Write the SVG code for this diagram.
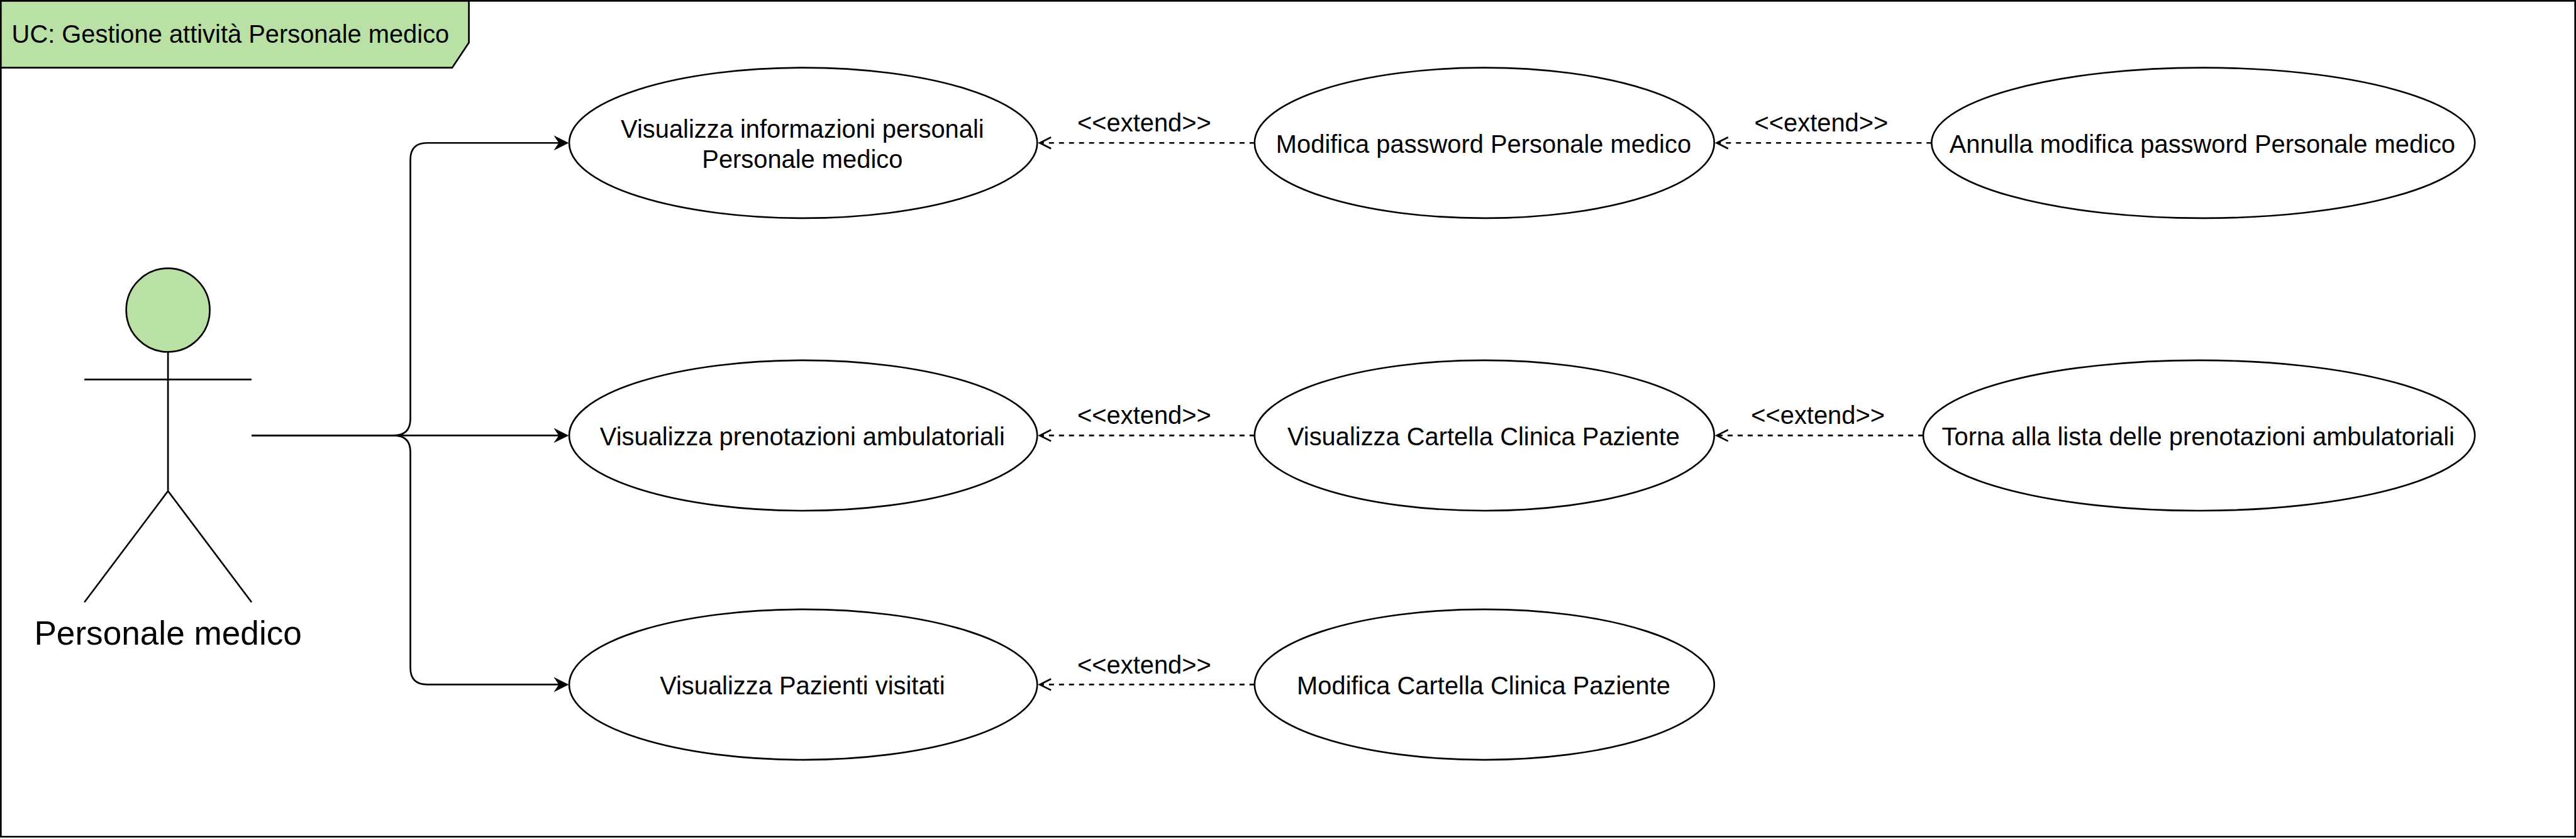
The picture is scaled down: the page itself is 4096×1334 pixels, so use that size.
<svg xmlns="http://www.w3.org/2000/svg" width="4096" height="1334" viewBox="0 0 4096 1334">
<style>
text{font-family:"Liberation Sans",Arial,sans-serif;fill:#000;text-anchor:middle;font-size:60px}
.s{fill:none;stroke:#000;stroke-width:4}
.u{fill:#fff;stroke:#000;stroke-width:4}
.g{fill:#b9e0a5;stroke:#000;stroke-width:4}
.d{fill:none;stroke:#000;stroke-width:4;stroke-dasharray:12 12}
</style>
<defs>
<marker id="fill" markerUnits="userSpaceOnUse" markerWidth="40" markerHeight="40" refX="20" refY="20" orient="auto"><path d="M0 2 L36 20 L0 38 L12 20 Z" fill="#000"/></marker>
<marker id="open" markerUnits="userSpaceOnUse" markerWidth="40" markerHeight="40" refX="34" refY="20" orient="auto"><path d="M7 6.5 L34 20 L7 33.5" fill="none" stroke="#000" stroke-width="4"/></marker>
</defs>
<g transform="scale(0.6645)">
<rect id="bg" width="6164" height="2008" fill="#fff"/>
<g id="frame">
<rect class="s" x="2" y="2" width="6160" height="2000"/>
<path class="g" d="M2 2H1122V102L1082 162H2Z"/>
<text x="28" y="103" style="text-anchor:start">UC: Gestione attività Personale medico</text>
</g>
<g id="connectors">
<path class="s" marker-end="url(#fill)" d="M602 1042H942Q982 1042 982 1002V382Q982 342 1022 342H1345"/>
<path class="s" marker-end="url(#fill)" d="M602 1042H1345"/>
<path class="s" marker-end="url(#fill)" d="M602 1042H942Q982 1042 982 1082V1598Q982 1638 1022 1638H1345"/>
<path class="d" marker-end="url(#open)" d="M3002 342H2488"/>
<path class="d" marker-end="url(#open)" d="M4622 342H4108"/>
<path class="d" marker-end="url(#open)" d="M3002 1042H2488"/>
<path class="d" marker-end="url(#open)" d="M4602 1042H4108"/>
<path class="d" marker-end="url(#open)" d="M3002 1638H2488"/>
<text x="2738" y="315">&lt;&lt;extend&gt;&gt;</text>
<text x="4358" y="315">&lt;&lt;extend&gt;&gt;</text>
<text x="2738" y="1015">&lt;&lt;extend&gt;&gt;</text>
<text x="4350" y="1015">&lt;&lt;extend&gt;&gt;</text>
<text x="2738" y="1612">&lt;&lt;extend&gt;&gt;</text>
</g>
<g id="actor">
<ellipse class="g" cx="402" cy="742" rx="100" ry="100"/>
<path class="s" d="M402 842V1175M202 908H602M202 1441L402 1175L602 1441"/>
<text x="402" y="1543" style="font-size:80px">Personale medico</text>
</g>
<g id="uc1"><ellipse class="u" cx="1922" cy="342" rx="560" ry="180"/><text x="1920" y="330">Visualizza informazioni personali</text><text x="1920" y="402">Personale medico</text></g>
<g id="uc2"><ellipse class="u" cx="3552" cy="342" rx="550" ry="180"/><text x="3550" y="366">Modifica password Personale medico</text></g>
<g id="uc3"><ellipse class="u" cx="5272" cy="342" rx="650" ry="180"/><text x="5270" y="366">Annulla modifica password Personale medico</text></g>
<g id="uc4"><ellipse class="u" cx="1922" cy="1042" rx="560" ry="180"/><text x="1920" y="1066">Visualizza prenotazioni ambulatoriali</text></g>
<g id="uc5"><ellipse class="u" cx="3552" cy="1042" rx="550" ry="180"/><text x="3550" y="1066">Visualizza Cartella Clinica Paziente</text></g>
<g id="uc6"><ellipse class="u" cx="5262" cy="1042" rx="660" ry="180"/><text x="5260" y="1066">Torna alla lista delle prenotazioni ambulatoriali</text></g>
<g id="uc7"><ellipse class="u" cx="1922" cy="1638" rx="560" ry="180"/><text x="1920" y="1662">Visualizza Pazienti visitati</text></g>
<g id="uc8"><ellipse class="u" cx="3552" cy="1638" rx="550" ry="180"/><text x="3550" y="1662">Modifica Cartella Clinica Paziente</text></g>
</g>
</svg>
